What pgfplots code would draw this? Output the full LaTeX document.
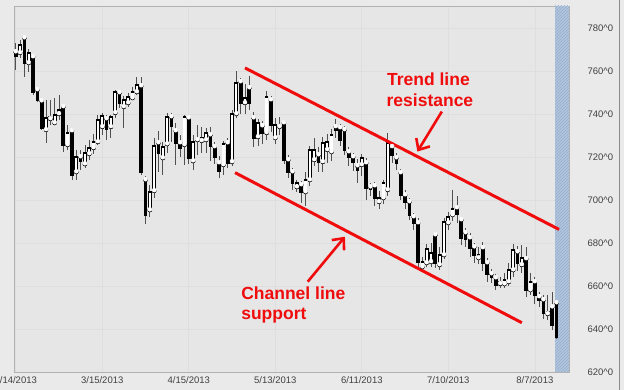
\documentclass[border=0pt]{standalone}
\usepackage{fontspec}
\setmainfont{Liberation Sans}
\usepackage{pgfplots}
\usepackage{pgfplotstable}
\pgfplotsset{compat=1.18}
\usetikzlibrary{arrows.meta,patterns}
\definecolor{bgout}{RGB}{234,234,234}
\definecolor{bgin}{RGB}{230,230,230}
\definecolor{chred}{RGB}{240,12,12}
\definecolor{stripblue}{RGB}{178,199,222}
\definecolor{stripline}{RGB}{150,174,204}
\definecolor{wick}{RGB}{80,80,80}

\pgfplotstableread{
i o h l c
0 768.8 773.0 760.5 767.0
1 768.4 774.4 766.0 772.1
2 775.3 776.3 757.2 763.7
3 763.7 770.0 759.5 768.4
4 766.5 767.4 749.0 750.2
5 751.2 752.0 745.6 746.5
6 746.0 747.0 732.6 733.5
7 732.6 746.5 726.5 738.1
8 737.7 746.5 735.0 738.6
9 735.8 747.4 734.9 739.5
10 740.0 749.0 737.2 741.9
11 743.3 744.2 722.3 725.6
12 725.6 734.9 723.3 731.2
13 732.1 733.5 709.3 711.6
14 713.0 723.3 709.3 720.0
15 720.0 723.3 714.0 718.1
16 716.7 725.6 714.9 721.9
17 721.4 727.9 718.6 724.2
18 724.2 730.7 721.4 727.0
19 727.0 739.5 725.6 737.2
20 734.0 740.5 730.2 739.1
21 737.7 739.5 727.9 733.0
22 734.0 739.5 728.8 738.6
23 740.5 751.2 738.1 750.2
24 749.8 751.2 742.8 744.7
25 743.3 748.4 733.5 746.5
26 745.1 749.8 743.3 747.9
27 747.4 752.6 746.5 750.2
28 750.2 757.2 748.8 753.5
29 753.0 757.2 711.6 713.0
30 709.3 711.0 688.8 693.0
31 695.3 707.0 692.1 703.7
32 704.2 728.8 701.0 725.1
33 726.5 732.0 713.0 721.9
34 719.5 727.0 711.6 724.7
35 726.0 740.5 722.0 738.6
36 738.6 740.5 727.0 734.4
37 732.1 735.8 716.3 726.5
38 726.5 730.0 720.0 723.8
39 725.6 739.5 716.3 738.6
40 738.1 739.1 716.7 719.5
41 718.1 730.2 714.0 727.0
42 727.9 735.0 721.0 728.4
43 727.5 734.0 722.0 728.8
44 727.9 733.5 722.0 731.2
45 730.2 734.0 718.0 724.7
46 724.7 727.0 716.7 720.0
47 717.2 720.5 710.2 713.5
48 716.3 727.5 711.6 726.0
49 726.5 728.8 714.9 717.2
50 717.7 741.9 715.8 740.0
51 740.0 760.0 738.0 754.4
52 754.9 756.7 740.0 745.1
53 745.1 754.0 740.0 747.4
54 752.1 757.7 742.0 745.1
55 738.1 741.0 724.7 728.8
56 729.3 737.7 725.0 735.8
57 734.4 736.7 726.0 731.2
58 731.2 750.7 728.0 747.9
59 746.5 748.4 731.6 734.9
60 728.8 738.0 726.0 734.9
61 734.0 738.6 730.0 734.9
62 735.8 737.2 716.7 718.6
63 718.6 720.9 710.2 713.0
64 713.0 714.9 704.7 707.9
65 706.0 709.3 703.7 707.9
66 707.0 709.0 698.6 703.7
67 703.7 713.0 697.2 709.3
68 709.3 725.0 706.5 723.3
69 718.6 729.0 716.0 723.3
70 720.9 724.7 713.0 717.7
71 717.7 729.3 713.0 726.5
72 723.3 730.7 717.0 727.0
73 722.3 733.0 718.0 730.2
74 734.0 737.7 728.8 732.6
75 733.5 735.5 725.0 727.9
76 732.6 734.4 720.9 723.3
77 722.3 724.7 716.0 720.0
78 720.0 722.0 713.5 717.7
79 715.8 719.0 708.0 714.0
80 716.3 721.5 711.0 719.5
81 717.2 719.5 700.0 705.6
82 706.0 708.0 702.0 705.1
83 706.5 708.4 697.2 700.9
84 699.1 704.0 695.8 700.9
85 700.9 709.3 698.0 707.9
86 704.7 731.2 702.0 726.5
87 724.7 727.0 717.0 720.9
88 719.5 722.0 714.0 717.2
89 712.6 714.5 700.0 702.3
90 702.3 704.5 696.0 699.1
91 699.1 700.9 690.5 693.0
92 692.1 694.0 686.0 689.3
93 689.3 691.5 668.4 671.2
94 668.8 673.5 666.5 671.2
95 670.7 679.5 668.8 677.2
96 671.2 680.0 668.8 675.3
97 683.7 685.0 668.4 670.7
98 669.8 678.0 667.4 674.4
99 674.4 691.6 672.6 689.8
100 689.3 694.5 686.0 692.1
101 693.0 704.6 690.0 695.8
102 696.3 702.0 689.3 693.5
103 690.7 692.1 679.0 682.3
104 684.7 687.0 678.0 681.9
105 682.3 684.7 673.5 677.7
106 678.1 680.0 670.7 674.4
107 673.0 678.0 670.0 674.4
108 677.7 680.5 667.0 670.7
109 670.7 673.0 662.0 665.6
110 665.6 668.0 661.4 664.2
111 663.7 665.6 658.0 660.5
112 661.0 664.0 659.0 661.9
113 660.9 666.0 659.0 662.8
114 661.9 670.5 660.0 667.4
115 667.4 679.5 664.0 676.7
116 675.8 678.5 667.0 670.7
117 669.8 679.0 666.0 673.0
118 672.6 678.0 655.0 658.1
119 658.1 666.0 655.8 661.9
120 661.9 664.0 651.5 655.8
121 654.9 657.0 650.0 653.5
122 653.5 656.0 644.5 647.4
123 647.0 656.0 644.0 647.9
124 650.2 657.0 639.5 641.9
125 652.1 653.0 635.5 636.3
}\candles

\begin{document}
\begin{tikzpicture}
\fill[bgout] (-14pt,-18pt) rectangle (610pt,372pt);
\begin{axis}[
  name=ax, at={(0,0)}, anchor=south west,
  scale only axis, width=555pt, height=366pt,
  xmin=-0.4, xmax=127.9, ymin=620, ymax=790.2,
  xtick={0,20,40,60,80,100,120},
  xticklabels={2/14/2013,3/15/2013,4/15/2013,5/13/2013,6/11/2013,7/10/2013,8/7/2013},
  ytick={620,640,660,680,700,720,740,760,780},
  yticklabels={620\textasciicircum0,640\textasciicircum0,660\textasciicircum0,680\textasciicircum0,700\textasciicircum0,720\textasciicircum0,740\textasciicircum0,760\textasciicircum0,780\textasciicircum0},
  yticklabel pos=right,
  major tick length=0pt,
  grid=major,
  grid style={draw=black!13, line width=0.6pt},
  axis line style={draw=black!30, line width=0.7pt},
  axis background/.style={fill=bgin},
  tick label style={font=\fontsize{9.5}{11}\selectfont, text=black!75},
  yticklabel style={anchor=west, xshift=15pt},
  xticklabel style={yshift=-1pt},
]
% future strip
\addplot[draw=none, fill=stripblue, postaction={pattern=north east lines, pattern color=stripline}]
  coordinates {(124.7,620) (127.9,620) (127.9,790.2) (124.7,790.2)} -- cycle;
% wicks
\addplot[only marks, mark=none, wick,
  error bars/.cd, y dir=both, y explicit, error mark=none,
  error bar style={line width=0.85pt, wick}]
  table[x=i, y=o, y error plus expr={\thisrow{h}-\thisrow{o}}, y error minus expr={\thisrow{o}-\thisrow{l}}] {\candles};
% bodies (black outline / fill)
\addplot[only marks, mark=none, black,
  error bars/.cd, y dir=both, y explicit, error mark=none,
  error bar style={line width=3.7pt, black}]
  table[x=i, y=o, y error plus expr={max(\thisrow{c}-\thisrow{o},0)+0.3}, y error minus expr={max(\thisrow{o}-\thisrow{c},0)+0.3}] {\candles};
% white bodies
\addplot[only marks, mark=none, white,
  error bars/.cd, y dir=plus, y explicit, error mark=none,
  error bar style={line width=2.3pt, white}]
  table[x=i, y expr={\thisrow{o}+0.35}, y error plus expr={max(\thisrow{c}-\thisrow{o}-0.7,0)}] {\candles};
% channel lines
\addplot[chred, line width=3pt] coordinates {(53.0,761.4) (125.6,686.3)};
\addplot[chred, line width=3pt] coordinates {(50.7,712.7) (117.0,642.9)};
% arrows
\draw[chred, line width=2.6pt, -{Straight Barb[length=9pt,width=16pt]}]
  (axis cs:98.5,741.1) -- (axis cs:92.85,722.5);
\draw[chred, line width=2.6pt, -{Straight Barb[length=9pt,width=16pt]}]
  (axis cs:67.5,662.0) -- (axis cs:76.1,682.9);
% labels
\node[anchor=base west, inner sep=0pt, text=chred, font=\fontsize{17.5}{20}\selectfont\bfseries] at (axis cs:85.8,753.0) {Trend line};
\node[anchor=base west, inner sep=0pt, text=chred, font=\fontsize{17.5}{20}\selectfont\bfseries] at (axis cs:85.7,743.3) {resistance};
\node[anchor=base west, inner sep=0pt, text=chred, font=\fontsize{17.5}{20}\selectfont\bfseries] at (axis cs:52.1,653.8) {Channel line};
\node[anchor=base west, inner sep=0pt, text=chred, font=\fontsize{17.5}{20}\selectfont\bfseries] at (axis cs:52.1,644.2) {support};
\end{axis}
\draw[black!45, line width=0.8pt] (605pt,-18pt) -- (605pt,372pt);
\pgfresetboundingbox
\path (-14pt,-18pt) rectangle (610pt,372pt);
\end{tikzpicture}
\end{document}
